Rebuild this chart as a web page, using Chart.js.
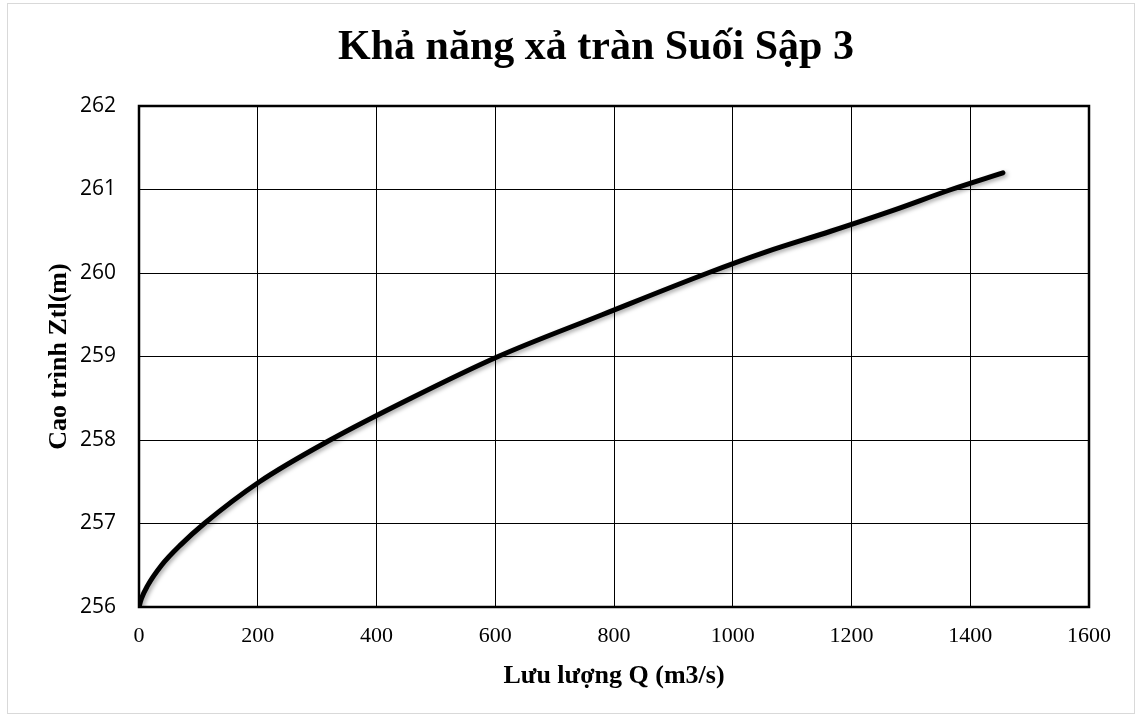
<!DOCTYPE html>
<html>
<head>
<meta charset="utf-8">
<script src="https://cdn.jsdelivr.net/npm/chart.js@4/dist/chart.umd.min.js"></script>
<style>
  html, body { margin: 0; padding: 0; background: #ffffff; }
  #wrap { position: relative; width: 1139px; height: 716px; }
  canvas { display: block; }
</style>
</head>
<body>
<div id="wrap"><canvas id="c" width="1139" height="716"></canvas></div>
<script>
// Discharge Q (m3/s) and water level Z (m)
const qValues = [0, 4, 14, 38, 71, 110, 203, 322, 458, 605, 780, 958, 1055, 1165, 1270, 1368, 1455];
const zValues = [256.0, 256.1, 256.25, 256.5, 256.75, 257.0, 257.5, 258.0, 258.5, 259.0, 259.5, 260.0, 260.25, 260.5, 260.75, 261.0, 261.2];

const chartTitle = 'Khả năng xả tràn Suối Sập 3';
const xTitle = 'Lưu lượng Q (m3/s)';
const yTitle = 'Cao trình Ztl(m)';
const xTickMin = 0, xTickMax = 1600, xTickStep = 200;
const yTickMin = 256, yTickMax = 262, yTickStep = 1;

const points = qValues.map((q, i) => ({ x: q, y: zValues[i] }));

const framePlugin = {
  id: 'frame',
  beforeDraw(chart) {
    const ctx = chart.ctx;
    ctx.save();
    ctx.fillStyle = '#ffffff';
    ctx.fillRect(0, 0, chart.width, chart.height);
    ctx.strokeStyle = '#d9d9d9';
    ctx.lineWidth = 1;
    ctx.strokeRect(7.5, 3.5, chart.width - 12, chart.height - 6);
    ctx.restore();
  },
  beforeDatasetDraw(chart) {
    const ctx = chart.ctx;
    ctx.save();
    ctx.shadowColor = 'rgba(0,0,0,0.35)';
    ctx.shadowBlur = 4;
    ctx.shadowOffsetX = 2;
    ctx.shadowOffsetY = 2;
  },
  afterDatasetDraw(chart) {
    chart.ctx.restore();
  },
  afterDraw(chart) {
    const a = chart.chartArea;
    const ctx = chart.ctx;
    ctx.save();
    ctx.strokeStyle = '#000000';
    ctx.lineWidth = 2.5;
    ctx.strokeRect(a.left, a.top, a.right - a.left, a.bottom - a.top);
    // chart title
    ctx.fillStyle = '#000000';
    ctx.font = 'bold 42px "Liberation Serif", "Times New Roman", serif';
    ctx.textAlign = 'center';
    ctx.textBaseline = 'middle';
    ctx.fillText(chartTitle, 596, 48);
    ctx.restore();
  }
};

new Chart(document.getElementById('c'), {
  type: 'scatter',
  data: {
    datasets: [{
      data: points,
      showLine: true,
      borderColor: '#000000',
      borderWidth: 5,
      borderCapStyle: 'round',
      borderJoinStyle: 'round',
      cubicInterpolationMode: 'monotone',
      pointRadius: 0,
      pointHoverRadius: 0,
      fill: false
    }]
  },
  options: {
    responsive: false,
    animation: false,
    events: [],
    layout: { padding: { left: 0, right: 50, top: 106, bottom: 0 } },
    plugins: {
      legend: { display: false },
      tooltip: { enabled: false },
      title: { display: false }
    },
    scales: {
      x: {
        type: 'linear',
        min: xTickMin,
        max: xTickMax,
        afterFit(scale) { scale.height = 109; },
        ticks: {
          stepSize: xTickStep,
          color: '#000000',
          padding: 16,
          callback: (v) => String(v),
          font: { family: '"Liberation Serif", "Times New Roman", serif', size: 22 }
        },
        grid: { color: '#000000', lineWidth: 1, drawTicks: false },
        border: { display: false },
        title: {
          display: true,
          text: xTitle,
          color: '#000000',
          font: { family: '"Liberation Serif", "Times New Roman", serif', size: 26, weight: 'bold' },
          padding: { top: 0, bottom: 24 }
        }
      },
      y: {
        type: 'linear',
        min: yTickMin,
        max: yTickMax,
        afterFit(scale) { scale.width = 139; },
        ticks: {
          stepSize: yTickStep,
          color: '#000000',
          padding: 23,
          callback: (v) => String(v),
          font: { family: '"Open Sans", "Liberation Sans", sans-serif', size: 21 }
        },
        grid: { color: '#000000', lineWidth: 1, drawTicks: false },
        border: { display: false },
        title: {
          display: true,
          text: yTitle,
          color: '#000000',
          font: { family: '"Liberation Serif", "Times New Roman", serif', size: 26, weight: 'bold' },
          padding: { top: 44, bottom: 0 }
        }
      }
    }
  },
  plugins: [framePlugin]
});
</script>
</body>
</html>
